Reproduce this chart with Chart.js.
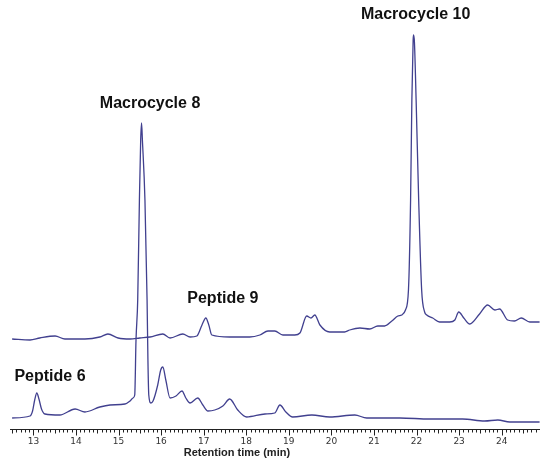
<!DOCTYPE html>
<html>
<head>
<meta charset="utf-8">
<script src="https://cdn.jsdelivr.net/npm/chart.js@4.4.1/dist/chart.umd.min.js"></script>
<style>
  html, body { margin: 0; padding: 0; background: #ffffff; }
  #wrap { width: 540px; height: 459px; }
</style>
</head>
<body>
<div id="wrap"><canvas id="chrom" width="540" height="459"></canvas></div>
<script>
// Upper trace (retention time in min, detector signal)
const upperTime = [12.50, 12.92, 13.15, 13.51, 13.74, 14.21, 14.56, 14.75, 14.99, 15.27, 15.50, 15.74,
  16.04, 16.21, 16.51, 16.68, 16.84, 16.96, 17.05, 17.12, 17.19, 17.61, 18.08, 18.32, 18.51, 18.67,
  18.86, 19.14, 19.26, 19.42, 19.52, 19.61, 19.73, 19.96, 20.31, 20.43, 20.67, 20.90, 21.09, 21.25,
  21.42, 21.56, 21.65, 21.74, 21.81, 21.86, 21.89, 21.92, 21.93, 21.95, 21.99, 22.05, 22.12, 22.19,
  22.24, 22.38, 22.54, 22.78, 22.90, 22.99, 23.11, 23.25, 23.48, 23.67, 23.84, 23.95, 24.14, 24.30,
  24.46, 24.66, 24.89];
const upperSignal = [90, 89, 91, 93, 90, 90, 92, 95, 91, 90, 91, 92,
  95, 91, 95, 92, 93, 104, 111, 104, 94, 92, 92, 94, 98, 98,
  94, 94, 96, 113, 111, 114, 104, 97, 97, 99, 101, 100, 103, 103,
  108, 113, 114, 119, 139, 229, 329, 389, 394, 387, 329, 229, 139, 117,
  114, 111, 107, 107, 109, 117, 111, 105, 115, 124, 119, 120, 109, 108,
  111, 107, 107];

// Lower trace
const lowerTime = [12.50, 12.92, 12.98, 13.03, 13.08, 13.13, 13.19, 13.27, 13.62, 13.98, 14.21, 14.56, 14.80, 15.15,
  15.27, 15.34, 15.38, 15.41, 15.45, 15.49, 15.52, 15.54, 15.56, 15.62, 15.67, 15.69, 15.71, 15.76,
  15.81, 15.92, 15.99, 16.04, 16.11, 16.21, 16.35, 16.49, 16.58, 16.68, 16.86, 16.98, 17.10, 17.26,
  17.45, 17.61, 17.80, 18.01, 18.44, 18.67, 18.79, 18.93, 19.09, 19.54, 19.96, 20.55, 20.83, 21.61,
  22.31, 23.08, 23.60, 23.91, 24.19, 24.89];
const lowerSignal = [11, 13, 18, 29, 36, 30, 20, 15, 14, 20, 17, 22, 24, 25,
  28, 31, 34, 89, 129, 229, 289, 306, 289, 229, 129, 69, 34, 26,
  28, 44, 59, 62, 49, 31, 33, 38, 31, 26, 31, 24, 18, 19,
  23, 30, 19, 12, 15, 16, 24, 17, 12, 14, 12, 14, 11, 11,
  10, 10, 8, 9, 7, 7];

// Peak labels
const peakNames = ['Macrocycle 10', 'Macrocycle 8', 'Peptide 9', 'Peptide 6'];
const peakLabelTime = [21.98, 15.74, 17.45, 13.39];
const peakLabelSignal = [414, 325, 130, 52];

const majorTicks = [13, 14, 15, 16, 17, 18, 19, 20, 21, 22, 23, 24];
const axisTitle = 'Retention time (min)';

const toPoints = (xs, ys) => xs.map((x, i) => ({ x: x, y: ys[i] }));
const traceColor = '#41408f';

// draws the peak names, the tick marks and the x axis by hand
const decorations = {
    id: 'decorations',
    afterDraw(chart) {
        const ctx = chart.ctx;
        const xs = chart.scales.x;
        const ys = chart.scales.y;
        const area = chart.chartArea;

        ctx.save();
        ctx.fillStyle = '#111111';
        ctx.font = 'bold 16px "Liberation Sans", Arial, sans-serif';
        ctx.textAlign = 'center';
        ctx.textBaseline = 'middle';
        peakNames.forEach((name, i) => {
            ctx.fillText(name, xs.getPixelForValue(peakLabelTime[i]), ys.getPixelForValue(peakLabelSignal[i]));
        });

        // axis line
        const y0 = Math.round(area.bottom) + 0.5;
        ctx.strokeStyle = '#222222';
        ctx.lineWidth = 1;
        ctx.beginPath();
        ctx.moveTo(area.left, y0);
        ctx.lineTo(area.right, y0);
        ctx.stroke();

        // minor ticks every 0.1 min
        ctx.beginPath();
        for (let t = 125; t <= 249; t++) {
            const px = Math.round(xs.getPixelForValue(t / 10)) + 0.5;
            if (px < area.left || px > area.right) continue;
            const len = (t % 10 === 0) ? 6 : (t % 5 === 0 ? 4 : 3);
            ctx.moveTo(px, y0);
            ctx.lineTo(px, y0 + len);
        }
        ctx.stroke();

        // tick labels
        ctx.fillStyle = '#333333';
        ctx.font = '9px "DejaVu Sans", sans-serif';
        ctx.textBaseline = 'top';
        majorTicks.forEach(v => {
            ctx.fillText(String(v), xs.getPixelForValue(v), y0 + 8);
        });

        ctx.fillStyle = '#222222';
        ctx.font = 'bold 11px "Liberation Sans", Arial, sans-serif';
        ctx.fillText(axisTitle, xs.getPixelForValue(17.78), y0 + 18);
        ctx.restore();
    }
};

new Chart(document.getElementById('chrom').getContext('2d'), {
    type: 'line',
    data: {
        datasets: [
            {
                label: 'upper',
                data: toPoints(upperTime, upperSignal),
                borderColor: traceColor,
                borderWidth: 1.3,
                pointRadius: 0,
                cubicInterpolationMode: 'monotone',
                fill: false
            },
            {
                label: 'lower',
                data: toPoints(lowerTime, lowerSignal),
                borderColor: traceColor,
                borderWidth: 1.3,
                pointRadius: 0,
                cubicInterpolationMode: 'monotone',
                fill: false
            }
        ]
    },
    options: {
        responsive: false,
        animation: false,
        layout: { padding: { left: 10, right: 0, top: 0, bottom: 30 } },
        plugins: {
            legend: { display: false },
            tooltip: { enabled: false }
        },
        scales: {
            x: { type: 'linear', min: 12.45, max: 24.9, display: false },
            y: { min: 0, max: 429, display: false }
        }
    },
    plugins: [decorations]
});
</script>
</body>
</html>
